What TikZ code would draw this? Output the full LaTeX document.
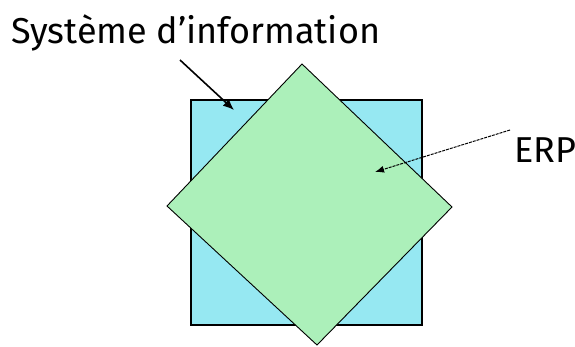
\documentclass[tikz,border=0pt]{standalone}
\usepackage{fontspec}
\setmainfont{Fira Sans}
\usetikzlibrary{arrows.meta}
\definecolor{sqcyan}{RGB}{150,232,242}
\definecolor{dmgreen}{RGB}{172,240,186}
\tikzset{
  lbl/.style={font=\fontsize{36}{40}\selectfont, inner sep=0pt, anchor=base west},
  pointer/.style={-{Latex[length=11pt,width=9pt]}, line width=1.6pt},
  dpointer/.style={-{Latex[length=9pt,width=7pt]}, line width=1pt, dash pattern=on 3pt off 1pt},
}
\begin{document}
\begin{tikzpicture}[x=1pt,y=-1pt]
\useasboundingbox (0,0) rectangle (575,346);
\fill[white] (0,0) rectangle (575,346);
% square
\draw[fill=sqcyan, line width=1.2pt] (191,100) rectangle (422,325);
% diamond
\coordinate (dt) at (302,64);
\coordinate (dr) at (452,207);
\coordinate (db) at (317,345);
\coordinate (dl) at (167,206);
\draw[fill=dmgreen, line width=0.9pt] (dt) -- (dr) -- (db) -- (dl) -- cycle;
% labels
\node[lbl] (si) at (11,43) {Système d’information};
\node[lbl] (erp) at (514,162) {ERP};
% arrows
\coordinate (s1) at (180,60);
\coordinate (t1) at (234,110);
\draw[pointer] (s1) -- (t1);
\coordinate (s2) at (510,130);
\coordinate (t2) at (375,172);
\draw[dpointer] (s2) -- (t2);
\end{tikzpicture}
\end{document}
